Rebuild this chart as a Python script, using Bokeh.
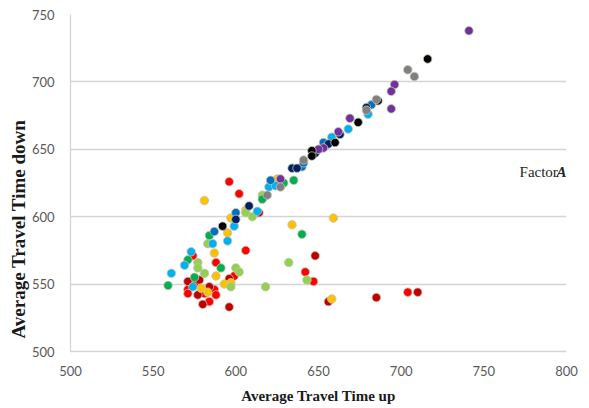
from bokeh.plotting import figure
from bokeh.models import Range1d, FixedTicker, Label, Title
from bokeh.embed import file_html
from bokeh.resources import INLINE

# ---- data ----
x_ticks = [500, 550, 600, 650, 700, 750, 800]
y_ticks = [500, 550, 600, 650, 700, 750]

red_x = [596, 602, 606, 574, 588, 599, 575, 571, 587, 571, 581, 588, 584, 642, 647, 704]
red_y = [626, 617, 575, 571, 566, 556, 550, 546, 546, 543, 543, 542, 537, 559, 552, 544]

darkred_x = [614, 596, 571, 578, 584, 577, 580, 596, 648, 656, 685, 710]
darkred_y = [603, 554, 552, 553, 548, 542, 535, 533, 571, 537, 540, 544]

yellow_x = [581, 606, 597, 595, 587, 588, 593, 597, 579, 583, 625, 634, 659, 658]
yellow_y = [612, 605, 599, 588, 573, 556, 550, 551, 547, 544, 628, 594, 599, 539]

lightgreen_x = [616, 606, 610, 583, 577, 577, 581, 600, 602, 597, 618, 632, 643]
lightgreen_y = [616, 603, 600, 580, 566, 562, 558, 562, 559, 548, 548, 566, 553]

green_x = [616, 629, 635, 584, 571, 591, 575, 559, 640]
green_y = [613, 625, 627, 586, 568, 562, 555, 549, 587]

lightblue_x = [620, 624, 613, 599, 586, 595, 573, 569, 561, 574, 680, 668, 658]
lightblue_y = [622, 623, 604, 593, 580, 582, 574, 564, 558, 548, 676, 665, 659]

blue_x = [621, 600, 587, 640, 641, 682, 653]
blue_y = [627, 603, 589, 637, 640, 683, 655]

darkblue_x = [608, 600, 634, 637, 648, 656, 663, 679]
darkblue_y = [608, 598, 636, 636, 647, 654, 661, 681]

purple_x = [741, 696, 694, 694, 669, 662, 653, 650, 627]
purple_y = [738, 698, 693, 680, 673, 663, 651, 650, 628]

black_x = [716, 686, 674, 660, 646, 646, 592]
black_y = [717, 686, 670, 655, 649, 645, 593]

gray_x = [704, 708, 685, 679, 641, 627, 619]
gray_y = [709, 704, 687, 679, 642, 622, 616]

series = [
    ("#FF0000", red_x, red_y),
    ("#C00000", darkred_x, darkred_y),
    ("#FFC000", yellow_x, yellow_y),
    ("#92D050", lightgreen_x, lightgreen_y),
    ("#00B050", green_x, green_y),
    ("#00B0F0", lightblue_x, lightblue_y),
    ("#0070C0", blue_x, blue_y),
    ("#002060", darkblue_x, darkblue_y),
    ("#7030A0", purple_x, purple_y),
    ("#000000", black_x, black_y),
    ("#808080", gray_x, gray_y),
]

p = figure(width=589, height=406, output_backend="svg", toolbar_location=None,
           x_range=Range1d(500, 800), y_range=Range1d(500, 750),
           min_border_left=70, min_border_right=23, min_border_top=14,
           min_border_bottom=54)
p.outline_line_color = None
p.background_fill_color = "white"
p.border_fill_color = "white"

p.xgrid.visible = False
p.ygrid.grid_line_color = "#d4d4d4"
p.ygrid.grid_line_width = 1.3
p.ygrid.ticker = FixedTicker(ticks=y_ticks)

p.xaxis.ticker = FixedTicker(ticks=x_ticks)
p.yaxis.ticker = FixedTicker(ticks=y_ticks)
for ax in (p.xaxis, p.yaxis):
    ax.axis_line_color = "#d4d4d4"
    ax.axis_line_width = 1.3
    ax.major_tick_line_color = None
    ax.minor_tick_line_color = None
    ax.major_tick_out = 0
    ax.major_tick_in = 0
    ax.major_label_text_font = "Lato"
    ax.major_label_text_font_size = "13px"
    ax.major_label_text_color = "#595959"
    ax.axis_label_text_font = "Liberation Serif"
    ax.axis_label_text_font_style = "bold"
    ax.axis_label_text_font_size = "15px"
    ax.axis_label_text_color = "#1a1a1a"

p.xaxis.axis_label = "Average Travel Time up"
p.xaxis.major_label_standoff = 14
p.xaxis.axis_label_standoff = 9
p.yaxis.major_label_standoff = 16

# y-axis title as a side title (sits lower than the frame centre)
p.add_layout(Title(text="Average Travel Time down", align="left", offset=13,
                   text_font="Liberation Serif", text_font_style="bold",
                   text_font_size="19px", text_color="#1a1a1a", standoff=0),
             "left")

for color, xs, ys in series:
    p.scatter(xs, ys, size=8.5, fill_color=color, line_color="#c4c4b4",
              line_width=1, line_alpha=0.8)

p.add_layout(Label(x=771.6, y=633, text="Factor", text_font="Liberation Serif",
                   text_font_size="15px", text_color="#262626",
                   text_baseline="middle", text_align="left"))
p.add_layout(Label(x=794, y=633, text="A", text_font="Liberation Serif",
                   text_font_style="bold italic",
                   text_font_size="15px", text_color="#262626",
                   text_baseline="middle", text_align="left"))

open("out.html", "w").write(file_html(p, INLINE))
